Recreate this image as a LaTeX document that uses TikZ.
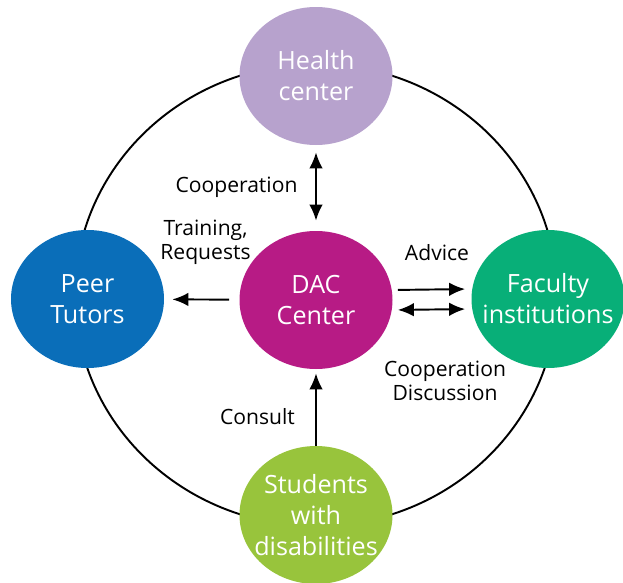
\documentclass[tikz,border=0pt]{standalone}
\usepackage{fontspec}
\setmainfont{Open Sans}
\usepackage{tikz}
\usetikzlibrary{arrows.meta,shapes.geometric}
\definecolor{healthcol}{HTML}{B7A2CD}
\definecolor{daccol}{HTML}{B71B85}
\definecolor{peercol}{HTML}{0A6EB9}
\definecolor{faccol}{HTML}{08AF78}
\definecolor{studcol}{HTML}{98C43C}
\tikzset{
	blob/.style={ellipse, minimum width=3.06cm, minimum height=2.76cm, inner sep=-1cm, align=center, text=white, font=\fontsize{14.3}{17.6}\selectfont},
	lbl/.style={align=center, font=\fontsize{12}{13.6}\selectfont},
	arr/.style={line width=1.1pt, -{Latex[length=0.32cm,width=0.27cm]}},
	dblarr/.style={line width=1.1pt, {Latex[length=0.32cm,width=0.27cm]}-{Latex[length=0.32cm,width=0.27cm]}}
}

\begin{document}
\begin{tikzpicture}
			%%%%% START %%%%%
			\useasboundingbox (0, 0) rectangle (12.46, -11.66);
			
			\draw[line width=1.1pt] (6.32, -5.9) ellipse (4.82 and 4.62);
			
			\node[blob, fill=healthcol] (health) at (6.32, -1.52) {Health\\center};
			\node[blob, fill=daccol] (dac) at (6.32, -6.0) {DAC\\Center};
			\node[blob, fill=peercol] (peer) at (1.75, -5.98) {Peer\\Tutors};
			\node[blob, fill=faccol] (fac) at (10.96, -5.98) {Faculty\\institutions};
			\node[blob, fill=studcol] (stud) at (6.32, -10.30) {Students\\with\\disabilities};
			
			\draw[dblarr, shorten <=0.2cm, shorten >=0.14cm] (dac) -- (health);
			\draw[arr, shorten <=0.2cm, shorten >=0.16cm] (dac) -- (peer);
			\draw[arr, shorten <=0.1cm, shorten >=0.12cm] ([yshift=0.2cm]dac.east) -- ([yshift=0.2cm]fac.west);
			\draw[dblarr, shorten <=0.1cm, shorten >=0.12cm] ([yshift=-0.2cm]dac.east) -- ([yshift=-0.2cm]fac.west);
			\draw[arr, shorten >=0.08cm] (stud) -- (dac);
			
			\node[lbl] (coop) at (4.73, -3.74) {Cooperation};
			\node[lbl] (train) at (4.11, -4.84) {Training,\\Requests};
			\node[lbl] (advice) at (8.74, -5.06) {Advice};
			\node[lbl] (coopdisc) at (8.9, -7.62) {Cooperation\\Discussion};
			\node[lbl] (consult) at (5.15, -8.34) {Consult};
			
			%%%%% END %%%%%
\end{tikzpicture}
\end{document}
